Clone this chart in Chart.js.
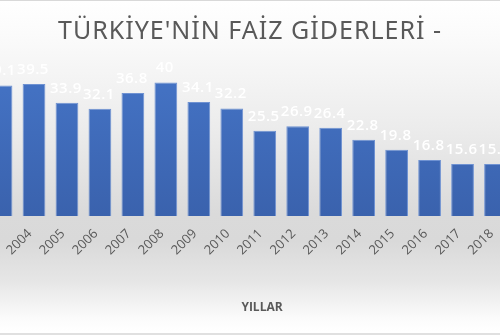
<!DOCTYPE html>
<html>
<head>
<meta charset="utf-8">
<script src="https://cdn.jsdelivr.net/npm/chart.js@4/dist/chart.umd.min.js"></script>
<style>
  html, body { margin: 0; padding: 0; }
  body {
    width: 500px; height: 335px; overflow: hidden; position: relative;
    background: linear-gradient(to bottom, #ffffff 0%, #fbfbfb 10%, #ececec 38%, #dadada 64%, #d9d9d9 72%, #e6e6e6 84%, #fbfbfb 95%, #ffffff 99%);
  }
  #frameTop { position: absolute; left: 0; top: 0; width: 500px; height: 1px; background: #d9d9d9; }
  #frameBot { position: absolute; left: 0; top: 333px; width: 500px; height: 2px; background: #e0e0e0; }
  #c { position: absolute; left: -22px; top: 0; }
</style>
</head>
<body>
<div id="frameTop"></div>
<canvas id="c" width="544" height="335"></canvas>
<div id="frameBot"></div>
<script>
const years = ['2003', '2004', '2005', '2006', '2007', '2008', '2009', '2010', '2011', '2012', '2013', '2014', '2015', '2016', '2017', '2018'];
const faiz = [39.1, 39.5, 33.9, 32.1, 36.8, 40, 34.1, 32.2, 25.5, 26.9, 26.4, 22.8, 19.8, 16.8, 15.6, 15.6];

const chartTitle = "TÜRKİYE'NİN FAİZ GİDERLERİ -";
const axisTitle = 'YILLAR';

// titles drawn by hand so they sit where the cropped picture has them, not centred on the wider canvas
const titlePlugin = {
  id: 'titlePlugin',
  afterDraw(chart) {
    const ctx = chart.ctx;
    ctx.save();
    ctx.fillStyle = '#595959';
    ctx.textAlign = 'center';
    ctx.textBaseline = 'alphabetic';
    ctx.font = '25px "Noto Sans"';
    ctx.letterSpacing = '1px';
    ctx.fillText(chartTitle, 272, 39);
    ctx.font = 'bold 12px "Open Sans"';
    ctx.letterSpacing = '0px';
    ctx.fillText(axisTitle, 284, 311);
    ctx.restore();
  }
};

// white value labels above each bar
const valueLabels = {
  id: 'valueLabels',
  afterDatasetsDraw(chart) {
    const ctx = chart.ctx;
    const meta = chart.getDatasetMeta(0);
    ctx.save();
    ctx.fillStyle = '#ffffff';
    ctx.font = '600 15px "Open Sans"';
    ctx.letterSpacing = '0.5px';
    ctx.textAlign = 'center';
    ctx.textBaseline = 'alphabetic';
    meta.data.forEach((bar, i) => {
      ctx.fillText(String(faiz[i]), bar.x - 1, bar.y - 10);
    });
    ctx.restore();
  }
};

function barGradient(context) {
  const chart = context.chart;
  const area = chart.chartArea;
  if (!area) return '#4472c4';
  const g = chart.ctx.createLinearGradient(0, area.top, 0, area.bottom);
  g.addColorStop(0, '#4676c9');
  g.addColorStop(1, '#3a62ad');
  return g;
}

new Chart(document.getElementById('c'), {
  type: 'bar',
  data: {
    labels: years,
    datasets: [{
      data: faiz,
      backgroundColor: barGradient,
      borderColor: '#6f92d2',
      borderWidth: 1,
      categoryPercentage: 0.69,
      barPercentage: 1
    }]
  },
  options: {
    responsive: false,
    animation: false,
    layout: { padding: { left: 0, right: 10, top: 49, bottom: 0 } },
    plugins: {
      legend: { display: false },
      tooltip: { enabled: false },
      title: { display: false }
    },
    scales: {
      x: {
        grid: { display: false },
        border: { display: false },
        ticks: {
          color: '#595959',
          font: { family: 'Open Sans', size: 13 },
          minRotation: 45,
          maxRotation: 45,
          padding: 2,
          labelOffset: -4
        },
        afterFit(scale) { scale.height = 119; }
      },
      y: {
        display: false,
        min: 0,
        max: 50
      }
    }
  },
  plugins: [valueLabels, titlePlugin]
});
</script>
</body>
</html>
